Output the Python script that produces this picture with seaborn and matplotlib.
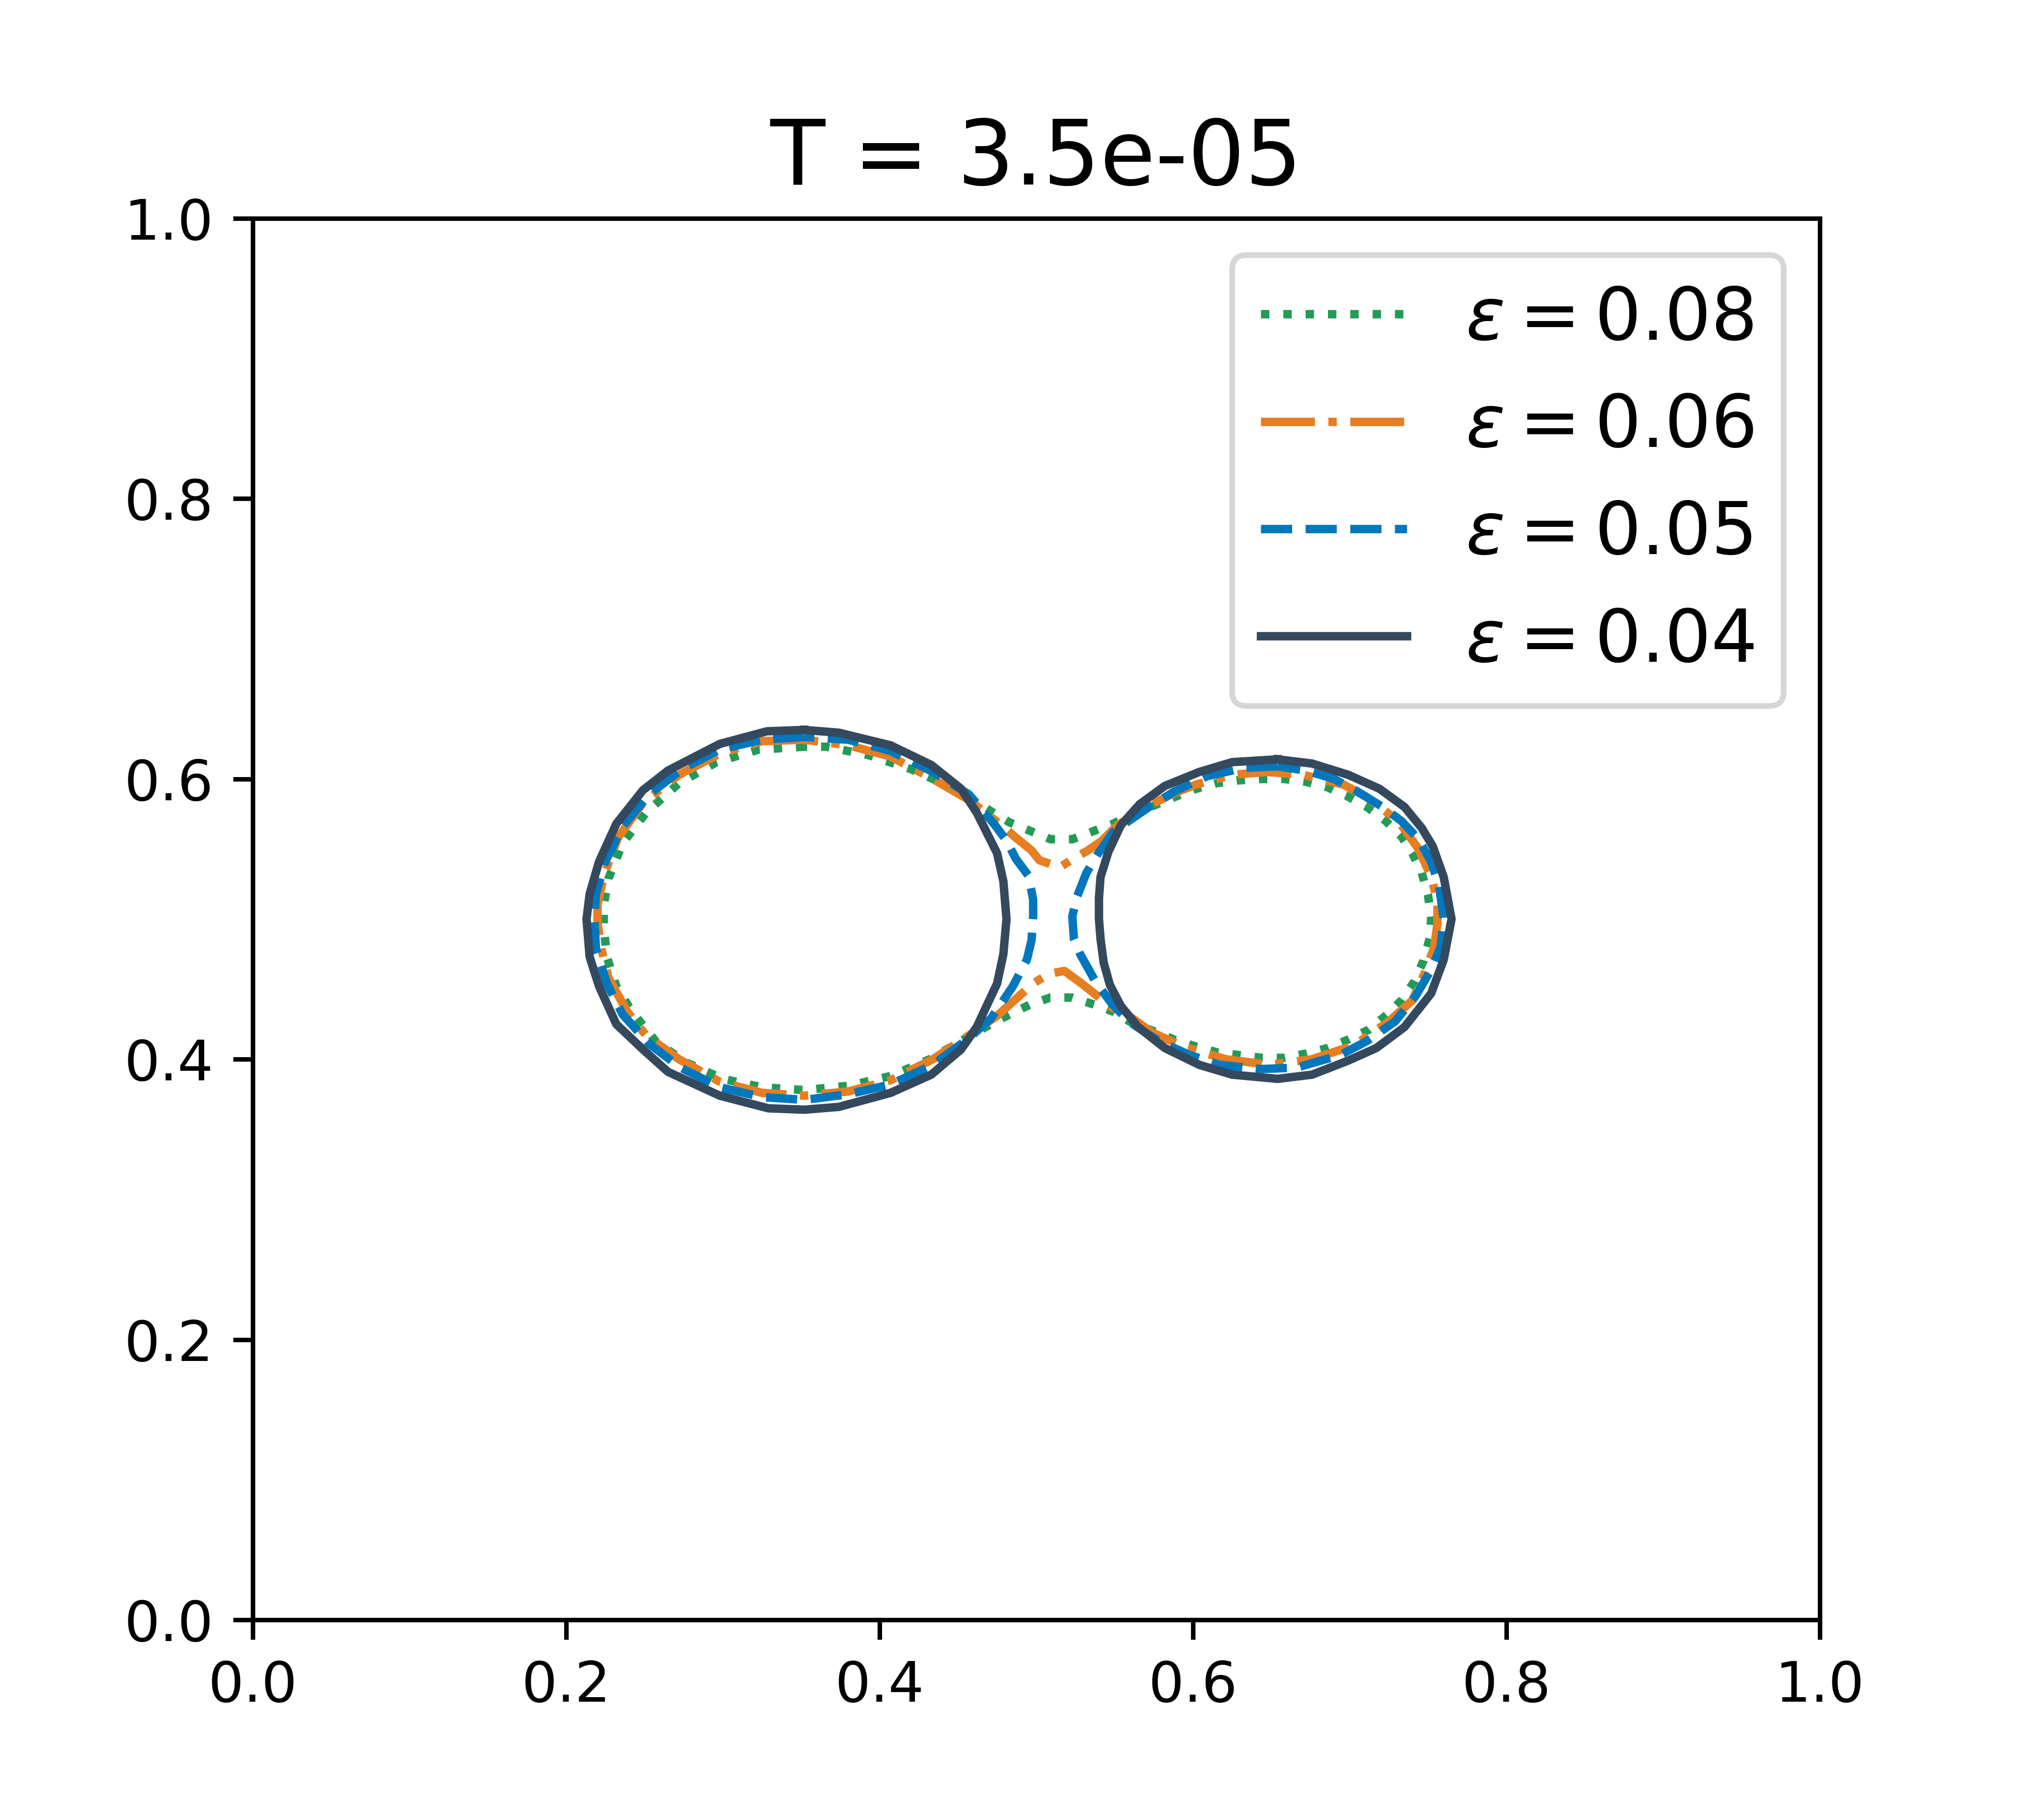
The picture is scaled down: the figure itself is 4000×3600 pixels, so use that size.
import matplotlib
matplotlib.use("Agg")
import matplotlib.pyplot as plt
import seaborn as sns
import pandas as pd

# contour points (x, y)
# eps = 0.08 : one connected curve
eps008_x = [0.352, 0.323, 0.296, 0.272, 0.251, 0.236, 0.227, 0.224, 0.224, 0.226, 0.232, 0.242, 0.257, 0.276,
            0.300, 0.325, 0.352, 0.380, 0.407, 0.432, 0.452, 0.471, 0.483,
            0.496, 0.509, 0.523, 0.537,
            0.549, 0.561, 0.575, 0.588, 0.602, 0.615, 0.629, 0.644, 0.658, 0.672, 0.686, 0.699, 0.712, 0.724,
            0.733, 0.741, 0.747, 0.751, 0.752, 0.750, 0.746, 0.740, 0.733, 0.723, 0.711, 0.698, 0.686, 0.672,
            0.658, 0.644, 0.629, 0.615, 0.602, 0.588, 0.575, 0.561, 0.549,
            0.537, 0.523, 0.509, 0.496, 0.483,
            0.471, 0.457, 0.444, 0.420, 0.393, 0.366, 0.352]
eps008_y = [0.623, 0.621, 0.612, 0.597, 0.576, 0.554, 0.529, 0.510, 0.494, 0.473, 0.452, 0.434, 0.413, 0.398,
            0.386, 0.380, 0.378, 0.381, 0.388, 0.400, 0.413, 0.425, 0.432,
            0.439, 0.444, 0.444, 0.439,
            0.434, 0.426, 0.420, 0.414, 0.409, 0.405, 0.403, 0.401, 0.401, 0.404, 0.408, 0.414, 0.421, 0.432,
            0.442, 0.455, 0.470, 0.486, 0.500, 0.517, 0.533, 0.547, 0.559, 0.570, 0.580, 0.588, 0.594, 0.598,
            0.600, 0.600, 0.599, 0.597, 0.593, 0.587, 0.581, 0.575, 0.568,
            0.563, 0.557, 0.557, 0.563, 0.569,
            0.577, 0.587, 0.595, 0.607, 0.617, 0.623, 0.623]

# eps = 0.06 : one connected curve
eps006_x = [0.352, 0.325, 0.298, 0.272, 0.249, 0.233, 0.224, 0.220, 0.220, 0.222, 0.227, 0.239, 0.251, 0.272,
            0.298, 0.325, 0.352, 0.380, 0.407, 0.434, 0.457, 0.475, 0.486, 0.498,
            0.508, 0.518, 0.529, 0.538, 0.545,
            0.559, 0.574, 0.594, 0.621, 0.649, 0.676, 0.703, 0.725, 0.740, 0.748, 0.754, 0.756, 0.756, 0.752,
            0.744, 0.731, 0.711, 0.696, 0.670, 0.647, 0.625, 0.602, 0.588, 0.572, 0.560, 0.550,
            0.542, 0.533, 0.525, 0.515, 0.502, 0.497, 0.486, 0.479,
            0.457, 0.434, 0.407, 0.380, 0.352]
eps006_y = [0.628, 0.627, 0.618, 0.603, 0.583, 0.558, 0.531, 0.510, 0.498, 0.481, 0.458, 0.434, 0.417, 0.400,
            0.384, 0.376, 0.374, 0.377, 0.385, 0.400, 0.417, 0.431, 0.442, 0.454,
            0.461, 0.463, 0.454, 0.446, 0.439,
            0.431, 0.419, 0.409, 0.400, 0.396, 0.400, 0.410, 0.427, 0.442, 0.462, 0.480, 0.497, 0.513, 0.530,
            0.550, 0.570, 0.587, 0.596, 0.603, 0.605, 0.603, 0.596, 0.590, 0.581, 0.574, 0.565,
            0.556, 0.549, 0.544, 0.537, 0.542, 0.549, 0.559, 0.566,
            0.585, 0.600, 0.616, 0.624, 0.628]

# eps = 0.05 : two separate curves
eps005_left_x = [0.352, 0.325, 0.298, 0.274, 0.253, 0.236, 0.225, 0.219, 0.218, 0.219, 0.226, 0.236, 0.253,
                 0.273, 0.298, 0.325, 0.352, 0.380, 0.407, 0.434, 0.457, 0.471, 0.479, 0.485, 0.494, 0.497,
                 0.498, 0.498, 0.495, 0.487, 0.481, 0.473, 0.457, 0.434, 0.407, 0.380, 0.352]
eps005_left_y = [0.630, 0.628, 0.621, 0.607, 0.589, 0.566, 0.541, 0.518, 0.500, 0.479, 0.454, 0.432, 0.411,
                 0.394, 0.380, 0.373, 0.371, 0.375, 0.382, 0.396, 0.415, 0.429, 0.442, 0.452, 0.471, 0.485,
                 0.502, 0.514, 0.531, 0.543, 0.556, 0.568, 0.589, 0.605, 0.620, 0.628, 0.630]
eps005_right_x = [0.654, 0.633, 0.609, 0.588, 0.572, 0.559, 0.549, 0.539, 0.532, 0.526, 0.523, 0.524, 0.528,
                  0.533, 0.538, 0.548, 0.559, 0.578, 0.598, 0.617, 0.643, 0.666, 0.694, 0.711, 0.729, 0.742,
                  0.752, 0.758, 0.760, 0.757, 0.752, 0.744, 0.733, 0.721, 0.705, 0.690, 0.672, 0.654]
eps005_right_y = [0.609, 0.608, 0.602, 0.591, 0.580, 0.570, 0.562, 0.546, 0.533, 0.516, 0.502, 0.486, 0.475,
                  0.465, 0.455, 0.440, 0.427, 0.413, 0.403, 0.396, 0.393, 0.394, 0.403, 0.413, 0.427, 0.445,
                  0.464, 0.480, 0.500, 0.524, 0.541, 0.557, 0.570, 0.580, 0.591, 0.600, 0.606, 0.609]

# eps = 0.04 : two separate curves
eps004_left_x = [0.352, 0.328, 0.298, 0.265, 0.249, 0.232, 0.221, 0.215, 0.213, 0.215, 0.221, 0.232, 0.249,
                 0.265, 0.298, 0.329, 0.352, 0.374, 0.407, 0.433, 0.452, 0.462, 0.475, 0.479, 0.481, 0.479,
                 0.475, 0.462, 0.452, 0.433, 0.407, 0.374, 0.352]
eps004_left_y = [0.635, 0.634, 0.625, 0.606, 0.592, 0.568, 0.541, 0.518, 0.500, 0.473, 0.452, 0.425, 0.407,
                 0.391, 0.374, 0.365, 0.364, 0.366, 0.376, 0.389, 0.407, 0.423, 0.454, 0.475, 0.500, 0.527,
                 0.547, 0.576, 0.593, 0.610, 0.624, 0.633, 0.635]
eps004_right_x = [0.654, 0.625, 0.604, 0.582, 0.566, 0.554, 0.546, 0.541, 0.540, 0.540, 0.541, 0.543, 0.547,
                  0.554, 0.565, 0.582, 0.604, 0.625, 0.654, 0.676, 0.699, 0.717, 0.735, 0.752, 0.760, 0.765,
                  0.760, 0.753, 0.746, 0.735, 0.719, 0.699, 0.676, 0.654]
eps004_right_y = [0.614, 0.612, 0.605, 0.595, 0.582, 0.567, 0.548, 0.530, 0.515, 0.500, 0.486, 0.469, 0.453,
                  0.438, 0.423, 0.408, 0.396, 0.389, 0.386, 0.389, 0.399, 0.408, 0.423, 0.447, 0.471, 0.500,
                  0.530, 0.552, 0.565, 0.580, 0.593, 0.603, 0.611, 0.614]

labels = [r"$\varepsilon = 0.08$", r"$\varepsilon = 0.06$", r"$\varepsilon = 0.05$", r"$\varepsilon = 0.04$"]
colors = ["#239B56", "#E67E22", "#0277BD", "#34495E"]
styles = [":", "-.", "--", "-"]

curves = [
    [(eps008_x, eps008_y)],
    [(eps006_x, eps006_y)],
    [(eps005_left_x, eps005_left_y), (eps005_right_x, eps005_right_y)],
    [(eps004_left_x, eps004_left_y), (eps004_right_x, eps004_right_y)],
]

fig, ax = plt.subplots(figsize=(5, 4.5), dpi=800)

for pieces, lab, col, ls in zip(curves, labels, colors, styles):
    for i, (xs, ys) in enumerate(pieces):
        df = pd.DataFrame({"x": xs, "y": ys})
        sns.lineplot(data=df, x="x", y="y", sort=False, estimator=None, ax=ax,
                     color=col, linestyle=ls, linewidth=1.5,
                     label=lab if i == 0 else None)

ax.set_xlim(0, 1)
ax.set_ylim(0, 1)
ax.set_xlabel("")
ax.set_ylabel("")
ax.set_title("T = 3.5e-05", fontsize=16)
ax.legend(loc="upper right", fontsize=13)

plt.savefig("out.png", dpi=800)
